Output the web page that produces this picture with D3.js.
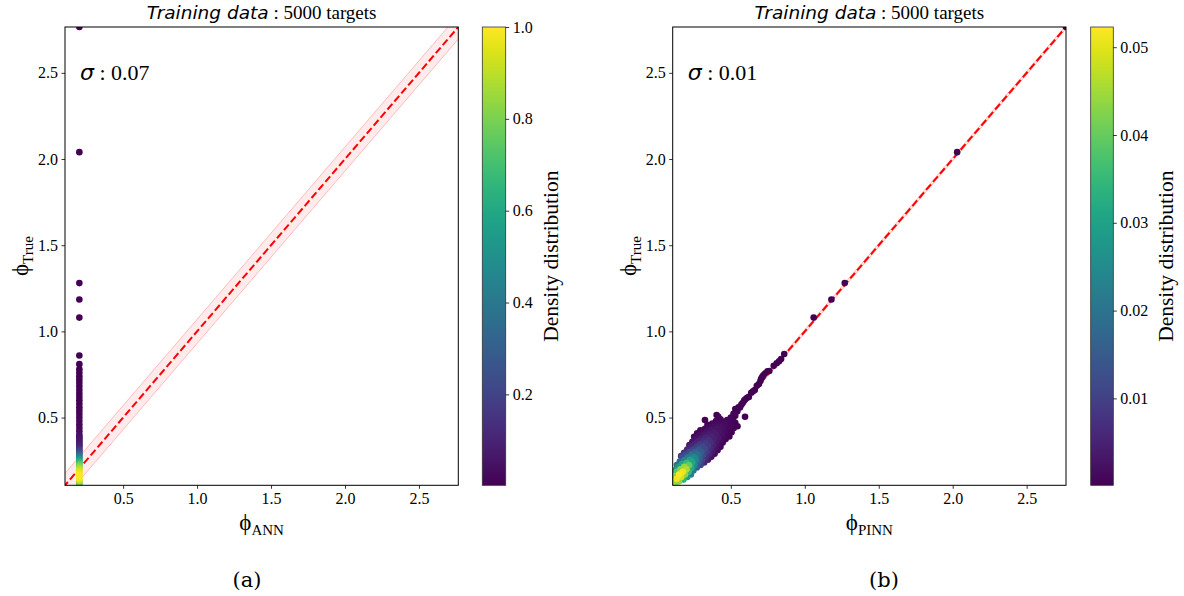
<!DOCTYPE html>
<html><head><meta charset="utf-8">
<script src="https://cdn.jsdelivr.net/npm/d3@7"></script>
<style>body{margin:0;background:#fff}svg{display:block}</style>
</head><body>
<svg id="c" width="1184" height="596"></svg>
<script>
// ---------- data ----------
const axisTicks = [0.5, 1.0, 1.5, 2.0, 2.5];
const axisTickLabels = ["0.5", "1.0", "1.5", "2.0", "2.5"];
const phiRange = [0.107, 2.766];

const leftCbTicks = [0.2, 0.4, 0.6, 0.8, 1.0];
const leftCbLabels = ["0.2", "0.4", "0.6", "0.8", "1.0"];
const leftCbRange = [0.002, 1.0];
const rightCbTicks = [0.01, 0.02, 0.03, 0.04, 0.05];
const rightCbLabels = ["0.01", "0.02", "0.03", "0.04", "0.05"];
const rightCbRange = [0.0001, 0.0523];

const sigmaLabels = ["0.07", "0.01"];
const sigmaValues = [0.07, 0.01];

// (a) ANN predictions vs true
const leftPhiTrue = [0.11,0.12,0.13,0.14,0.15,0.16,0.17,0.18,0.19,0.20,0.21,0.22,0.23,0.24,0.25,0.26,0.27,0.28,0.29,0.30,
  0.31,0.32,0.33,0.34,0.35,0.36,0.37,0.38,0.39,0.40,0.42,0.44,0.46,0.48,0.50,0.52,0.54,0.56,0.58,0.60,
  0.62,0.64,0.66,0.68,0.70,0.72,0.74,0.76,0.78,0.81,0.86,1.08,1.185,1.28,2.04,2.766];
const leftPhiANN = [0.204,0.204,0.204,0.204,0.204,0.204,0.204,0.204,0.204,0.204,0.204,0.204,0.204,0.204,0.204,0.204,0.204,0.204,0.204,0.204,
  0.204,0.204,0.204,0.204,0.204,0.204,0.204,0.204,0.204,0.204,0.204,0.204,0.204,0.204,0.204,0.204,0.204,0.204,0.204,0.204,
  0.204,0.204,0.204,0.204,0.204,0.204,0.204,0.204,0.204,0.204,0.204,0.204,0.204,0.204,0.204,0.204];
const leftDensity = [0.62,0.76,0.87,0.95,0.99,1.0,0.99,0.97,0.94,0.90,0.85,0.80,0.74,0.67,0.60,0.52,0.44,0.36,0.29,0.23,
  0.18,0.14,0.11,0.09,0.075,0.065,0.055,0.048,0.042,0.037,0.030,0.025,0.021,0.018,0.015,0.013,0.011,0.010,0.009,0.008,
  0.007,0.006,0.006,0.005,0.005,0.004,0.004,0.003,0.003,0.002,0.002,0.002,0.002,0.002,0.002,0.002];

// (b) PINN predictions vs true
const rightPhiPINN = [
  0.125,0.110,0.098,
  0.150,0.135,0.120,0.110,
  0.180,0.165,0.150,0.135,0.125,
  0.205,0.190,0.175,0.160,0.145,0.135,
  0.230,0.215,0.200,0.185,0.170,0.155,
  0.247,0.232,0.217,0.202,0.187,0.172,0.164,
  0.270,0.255,0.240,0.225,0.210,0.195,0.184,
  0.295,0.280,0.265,0.250,0.235,0.220,0.205,
  0.320,0.305,0.290,0.275,0.260,0.245,0.230,0.220,
  0.345,0.330,0.315,0.300,0.285,0.270,0.255,0.240,
  0.368,0.353,0.338,0.323,0.308,0.293,0.278,0.263,0.252,
  0.390,0.375,0.360,0.345,0.330,0.315,0.300,0.285,0.272,
  0.410,0.395,0.380,0.365,0.350,0.335,0.320,0.305,0.294,
  0.430,0.415,0.400,0.385,0.370,0.355,0.340,0.325,
  0.445,0.430,0.415,0.400,0.385,0.370,0.355,0.342,
  0.465,0.450,0.435,0.420,0.405,0.390,0.375,
  0.490,0.475,0.460,0.445,0.430,0.415,0.400,
  0.505,0.490,0.475,0.460,0.445,0.430,0.415,
  0.520,0.505,0.490,0.475,
  0.530,0.515,0.500,
  0.530,0.518,
  0.544,0.530,
  0.562,0.580,0.598,0.622,0.638,0.662,0.690,0.700,0.712,0.730,0.748,0.760,0.810,0.826,0.861,
  0.552,0.571,0.590,0.610,0.650,0.676,0.705,0.720,0.790,0.840,
  0.325,0.404,0.596,0.545,
  1.06,1.18,1.27,2.03,2.766];
const rightPhiTrue = [
  0.115,0.130,0.142,
  0.130,0.145,0.160,0.170,
  0.140,0.155,0.170,0.185,0.195,
  0.155,0.170,0.185,0.200,0.215,0.225,
  0.170,0.185,0.200,0.215,0.230,0.245,
  0.193,0.208,0.223,0.238,0.253,0.268,0.276,
  0.210,0.225,0.240,0.255,0.270,0.285,0.296,
  0.225,0.240,0.255,0.270,0.285,0.300,0.315,
  0.240,0.255,0.270,0.285,0.300,0.315,0.330,0.340,
  0.255,0.270,0.285,0.300,0.315,0.330,0.345,0.360,
  0.272,0.287,0.302,0.317,0.332,0.347,0.362,0.377,0.388,
  0.290,0.305,0.320,0.335,0.350,0.365,0.380,0.395,0.408,
  0.310,0.325,0.340,0.355,0.370,0.385,0.400,0.415,0.426,
  0.330,0.345,0.360,0.375,0.390,0.405,0.420,0.435,
  0.355,0.370,0.385,0.400,0.415,0.430,0.445,0.458,
  0.375,0.390,0.405,0.420,0.435,0.450,0.465,
  0.390,0.405,0.420,0.435,0.450,0.465,0.480,
  0.415,0.430,0.445,0.460,0.475,0.490,0.505,
  0.440,0.455,0.470,0.485,
  0.470,0.485,0.500,
  0.510,0.522,
  0.536,0.550,
  0.558,0.584,0.606,0.620,0.644,0.660,0.695,0.712,0.735,0.755,0.768,0.770,0.815,0.826,0.869,
  0.560,0.575,0.598,0.615,0.652,0.684,0.725,0.745,0.800,0.840,
  0.486,0.515,0.505,0.450,
  1.08,1.185,1.28,2.04,2.766];
const rightDensity = [
  0.043,0.045,0.037,
  0.043,0.051,0.043,0.033,
  0.034,0.0486,0.0523,0.039,0.029,
  0.028,0.043,0.051,0.043,0.028,0.019,
  0.022,0.035,0.046,0.044,0.031,0.018,
  0.021,0.032,0.040,0.035,0.023,0.013,0.009,
  0.015,0.024,0.031,0.030,0.021,0.012,0.007,
  0.0095,0.016,0.023,0.0245,0.019,0.012,0.006,
  0.0057,0.0105,0.016,0.019,0.016,0.0105,0.0057,0.0032,
  0.0035,0.007,0.011,0.0147,0.014,0.0098,0.0057,0.0026,
  0.0023,0.005,0.0084,0.0114,0.0114,0.0084,0.005,0.0024,0.0012,
  0.0015,0.0034,0.0059,0.0084,0.0088,0.0068,0.0042,0.0021,0.0009,
  0.0012,0.0027,0.0046,0.0065,0.0069,0.0053,0.0033,0.0016,0.0007,
  0.00085,0.0019,0.0033,0.0047,0.0049,0.0038,0.0024,0.0012,
  0.0009,0.0019,0.003,0.0039,0.0037,0.0026,0.0015,0.0007,
  0.0007,0.0014,0.0023,0.0029,0.0028,0.002,0.0011,
  0.0004,0.0008,0.0014,0.002,0.0022,0.0017,0.001,
  0.0005,0.0008,0.0012,0.0016,0.0015,0.001,0.0006,
  0.0005,0.0008,0.001,0.0012,
  0.0005,0.0007,0.0009,
  0.0006,0.0006,
  0.0005,0.0004,
  0.0003,0.0003,0.0002,0.0002,0.0002,0.0002,0.0002,0.0002,0.0002,0.0002,0.0002,0.0002,0.0002,0.0002,0.0002,
  0.0002,0.0002,0.0002,0.0002,0.0002,0.0002,0.0002,0.0002,0.0002,0.0002,
  0.0003,0.0003,0.0002,0.0003,
  0.0001,0.0001,0.0001,0.0001,0.0001];

// ---------- drawing ----------
const svg = d3.select("#c");
const SERIF = "'Liberation Serif','Times New Roman',serif";
const SANS = "'DejaVu Sans',sans-serif";

const panels = [
  {id: "a", x0: 65, x1: 458.3, cb0: 482.3, cb1: 505.7, xs: leftPhiANN, ys: leftPhiTrue, ds: leftDensity,
   cbRange: leftCbRange, cbTicks: leftCbTicks, cbLabels: leftCbLabels, sigma: sigmaValues[0], sigmaLabel: sigmaLabels[0],
   xsub: "ANN", caption: "(a)", capX: 247},
  {id: "b", x0: 672.7, x1: 1066, cb0: 1090.7, cb1: 1113.3, xs: rightPhiPINN, ys: rightPhiTrue, ds: rightDensity,
   cbRange: rightCbRange, cbTicks: rightCbTicks, cbLabels: rightCbLabels, sigma: sigmaValues[1], sigmaLabel: sigmaLabels[1],
   xsub: "PINN", caption: "(b)", capX: 884}
];
const y0 = 27, y1 = 485.3;

const defs = svg.append("defs");

panels.forEach((p, pi) => {
  const x = d3.scaleLinear().domain(phiRange).range([p.x0, p.x1]);
  const y = d3.scaleLinear().domain(phiRange).range([y1, y0]);
  const color = d3.scaleSequential(d3.interpolateViridis).domain(p.cbRange).clamp(true);

  defs.append("clipPath").attr("id", "clip" + p.id)
    .append("rect").attr("x", p.x0).attr("y", y0).attr("width", p.x1 - p.x0).attr("height", y1 - y0);

  const g = svg.append("g");
  const inner = g.append("g").attr("clip-path", `url(#clip${p.id})`);

  // sigma band
  const lo = phiRange[0] - 0.2, hi = phiRange[1] + 0.2;
  const band = [[lo, lo + p.sigma], [hi, hi + p.sigma], [hi, hi - p.sigma], [lo, lo - p.sigma]];
  inner.append("path")
    .attr("d", d3.line().x(d => x(d[0])).y(d => y(d[1]))(band) + "Z")
    .attr("fill", "#ff0000").attr("fill-opacity", 0.08).attr("stroke", "none");
  [p.sigma, -p.sigma].forEach(s => {
    inner.append("line")
      .attr("x1", x(lo)).attr("y1", y(lo + s)).attr("x2", x(hi)).attr("y2", y(hi + s))
      .attr("stroke", "#ff0000").attr("stroke-opacity", 0.3).attr("stroke-width", 0.8);
  });
  // identity line
  inner.append("line")
    .attr("x1", x(lo)).attr("y1", y(lo)).attr("x2", x(hi)).attr("y2", y(hi))
    .attr("stroke", "#ff0000").attr("stroke-width", 2).attr("stroke-dasharray", "7.4,3.2");

  // points sorted by density (densest on top)
  const n = Math.min(p.xs.length, p.ys.length, p.ds.length);
  const pts = d3.range(n).map(i => ({x: p.xs[i], y: p.ys[i], d: p.ds[i]})).sort((a, b) => a.d - b.d);
  inner.selectAll("circle").data(pts).enter().append("circle")
    .attr("cx", d => x(d.x)).attr("cy", d => y(d.y)).attr("r", 3.3)
    .attr("fill", d => color(d.d));

  // frame
  g.append("rect").attr("x", p.x0).attr("y", y0).attr("width", p.x1 - p.x0).attr("height", y1 - y0)
    .attr("fill", "none").attr("stroke", "#000").attr("stroke-width", 1);

  // axes
  const xAxis = d3.axisBottom(x).tickValues(axisTicks).tickFormat((d, i) => axisTickLabels[i]).tickSize(3.5).tickPadding(3.5);
  const yAxis = d3.axisLeft(y).tickValues(axisTicks).tickFormat((d, i) => axisTickLabels[i]).tickSize(3.5).tickPadding(3.5);
  const gx = g.append("g").attr("transform", `translate(0,${y1})`).call(xAxis);
  const gy = g.append("g").attr("transform", `translate(${p.x0},0)`).call(yAxis);
  [gx, gy].forEach(a => {
    a.select(".domain").remove();
    a.selectAll("line").attr("stroke", "#000").attr("stroke-width", 0.8);
    a.selectAll("text").attr("font-family", SERIF).attr("font-size", 16).attr("fill", "#000");
  });

  // title
  const cx = (p.x0 + p.x1) / 2;
  const t = g.append("text").attr("x", cx).attr("y", 19).attr("text-anchor", "middle").attr("fill", "#000");
  t.append("tspan").attr("font-family", SANS).attr("font-style", "italic").attr("font-size", 18.5).text("Training data");
  t.append("tspan").attr("font-family", SERIF).attr("font-size", 19).text(" : 5000 targets");

  // sigma label
  const s = g.append("text").attr("x", p.x0 + 15).attr("y", 80).attr("fill", "#000");
  s.append("tspan").attr("font-family", SANS).attr("font-style", "italic").attr("font-size", 22).text("σ");
  s.append("tspan").attr("font-family", SERIF).attr("font-size", 22).text(" : " + p.sigmaLabel);

  // axis labels
  const xl = g.append("text").attr("x", cx).attr("y", 530).attr("text-anchor", "middle")
    .attr("font-family", SERIF).attr("fill", "#000");
  xl.append("tspan").attr("font-size", 23).text("ϕ");
  xl.append("tspan").attr("font-size", 15).attr("dy", 5).text(p.xsub);

  const yl = g.append("text").attr("transform", `translate(${p.x0 - 37},${(y0 + y1) / 2}) rotate(-90)`)
    .attr("text-anchor", "middle").attr("font-family", SERIF).attr("fill", "#000");
  yl.append("tspan").attr("font-size", 23).text("ϕ");
  yl.append("tspan").attr("font-size", 15).attr("dy", 5).text("True");

  // caption
  g.append("text").attr("x", p.capX).attr("y", 587).attr("text-anchor", "middle")
    .attr("font-family", "'DejaVu Serif',serif").attr("font-size", 21).attr("fill", "#000").text(p.caption);

  // colorbar
  const gid = "grad" + p.id;
  const grad = defs.append("linearGradient").attr("id", gid).attr("x1", 0).attr("y1", 1).attr("x2", 0).attr("y2", 0);
  d3.range(0, 1.0001, 0.05).forEach(f => {
    grad.append("stop").attr("offset", f).attr("stop-color", d3.interpolateViridis(f));
  });
  g.append("rect").attr("x", p.cb0).attr("y", y0).attr("width", p.cb1 - p.cb0).attr("height", y1 - y0)
    .attr("fill", `url(#${gid})`).attr("stroke", "#333").attr("stroke-width", 0.8);
  const cbScale = d3.scaleLinear().domain(p.cbRange).range([y1, y0]);
  const cbAxis = d3.axisRight(cbScale).tickValues(p.cbTicks).tickFormat((d, i) => p.cbLabels[i]).tickSize(3.5).tickPadding(3.5);
  const gc = g.append("g").attr("transform", `translate(${p.cb1},0)`).call(cbAxis);
  gc.select(".domain").remove();
  gc.selectAll("line").attr("stroke", "#000").attr("stroke-width", 0.8);
  gc.selectAll("text").attr("font-family", SERIF).attr("font-size", 16).attr("fill", "#000");

  const cbLabelX = p.cb1 + (pi === 0 ? 52 : 60);
  g.append("text").attr("transform", `translate(${cbLabelX},${(y0 + y1) / 2}) rotate(-90)`)
    .attr("text-anchor", "middle").attr("font-family", SERIF).attr("font-size", 21.5).attr("fill", "#000")
    .text("Density distribution");
});
</script>
</body></html>
